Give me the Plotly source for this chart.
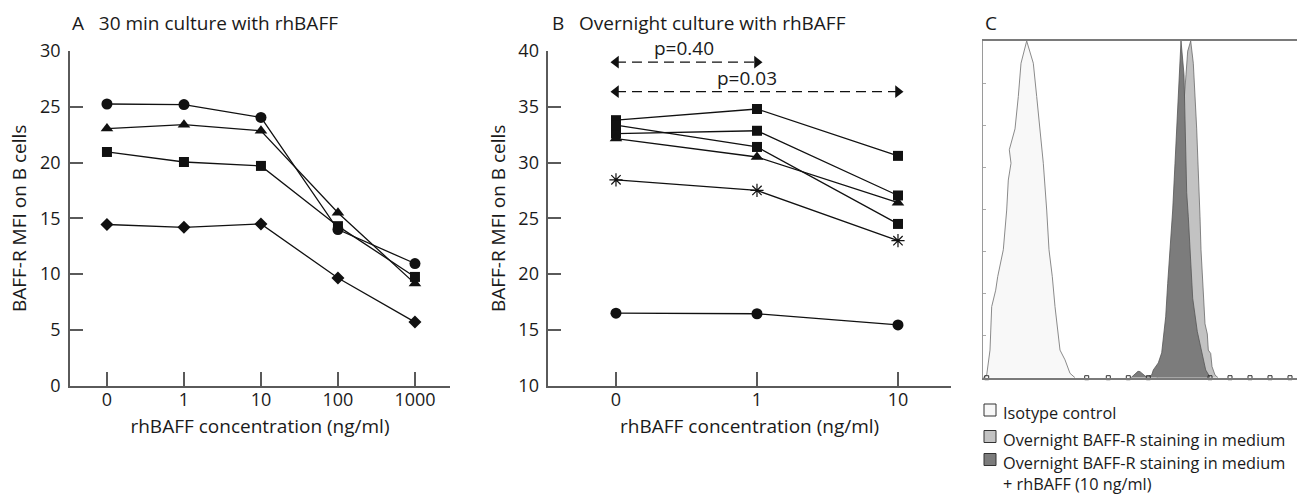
import plotly.graph_objects as go

W, H = 1297, 501
FONT = "Open Sans"
TXT = "#1a1a1a"
AX = "#5a5a5a"
FS_TITLE = 19
FS_TICK = 18

# ---------------- Panel A data ----------------
a_labels = ["0", "1", "10", "100", "1000"]
a_pos = [0, 1, 2, 3, 4]
a_circle = [25.25, 25.2, 24.05, 14.0, 10.95]
a_triangle = [23.05, 23.4, 22.85, 15.5, 9.15]
a_square = [20.95, 20.05, 19.7, 14.3, 9.75]
a_diamond = [14.45, 14.2, 14.5, 9.65, 5.7]

# ---------------- Panel B data ----------------
b_labels = ["0", "1", "10"]
b_pos = [0, 1, 2]
b_square1 = [33.8, 34.8, 30.6]
b_square2 = [32.6, 32.85, 27.05]
b_square3 = [33.35, 31.4, 24.5]
b_triangle = [32.15, 30.5, 26.4]
b_star = [28.45, 27.5, 23.0]
b_circle = [16.5, 16.45, 15.45]
b_p_texts = ["p=0.40", "p=0.03"]
b_p_ends = [1, 2]
b_p_arrow_y = [39.0, 36.35]
b_p_text_x = [0.48, 0.93]
b_p_text_y = [40.25, 37.6]

# ---------------- Panel C data (fluorescence channel vs % of max) ----------------
iso_x = [0, 3.7, 7.0, 8.7, 8.7, 12.7, 14.7, 20.3, 23.7, 23.7, 25.3, 28.0, 26.3, 32.0,
         35.3, 38.0, 43.7, 50.3, 53.7, 57.0, 60.3, 63.7, 66.0, 69.3, 72.0, 77.0, 82.0,
         87.0, 92.0]
iso_y = [0, 0.8, 8.2, 20.1, 21.1, 26.0, 30.0, 38.0, 47.8, 49.8, 58.7, 63.7, 67.7, 73.9,
         83.5, 93.4, 100, 93.4, 83.5, 73.9, 63.7, 49.8, 38.0, 30.0, 21.1, 8.2, 5.3,
         1.3, 0]
med_x = [174, 180, 186, 190, 194, 198, 203, 204.7, 207.7, 210.3, 213.7, 216, 217, 218,
         220.3, 222, 224.3, 225.3, 227.7, 229, 232, 235]
med_y = [0, 3, 10, 25, 45, 70, 90, 97, 100, 93.4, 73.9, 58.7, 47.8, 38.0,
         23.0, 16.0, 13.0, 8.2, 7.2, 3.3, 0.8, 0]
baff_x = [148, 152, 155, 157, 160, 163, 165.3, 168.7, 170.3, 175.3, 178.7, 180.3,
          182.7, 184.7, 187, 188.7, 189.7, 192, 195.3, 197, 198, 201, 202, 203.7,
          205.3, 207, 209.7, 214.3, 218.7, 222.7, 226.3, 227]
baff_y = [0, 1.2, 1.9, 1.8, 1.0, 0.3, 0.3, 0.8, 2.3, 4.4, 7.4, 11.0,
          18.1, 28.0, 37.9, 47.8, 49.8, 63.7, 83.5, 93.4, 100, 90, 74, 55,
          47.8, 38, 23.6, 13.7, 7.4, 2.3, 0.5, 0]
gate_x = [3.7, 103.7, 125.3, 145.3, 165.3, 227, 247, 267, 287, 307]
gate_y = [0, 0, 0, 0, 0, 0, 0, 0, 0, 0]
c_legend = ["Isotype control", "Overnight BAFF-R staining in medium",
            "Overnight BAFF-R staining in medium<br>+ rhBAFF (10 ng/ml)"]
c_colors = ["#f8f8f8", "#c2c2c2", "#7c7c7c"]


def px(x):
    return x / W


def py(y):
    return 1 - y / H


fig = go.Figure()

line_style = dict(color="#111111", width=1.3)

# Panel A traces
for vals, sym, size in [(a_circle, "circle", 11), (a_triangle, "triangle-up", 11),
                        (a_square, "square", 10), (a_diamond, "diamond", 10)]:
    fig.add_trace(go.Scatter(x=a_pos, y=vals, mode="lines+markers", line=line_style,
                             marker=dict(symbol=sym, size=size, color="#111111"),
                             xaxis="x", yaxis="y", showlegend=False, cliponaxis=False))

# Panel B traces
for vals, sym, size in [(b_square1, "square", 10), (b_square2, "square", 10),
                        (b_square3, "square", 10), (b_triangle, "triangle-up", 11),
                        (b_circle, "circle", 11)]:
    fig.add_trace(go.Scatter(x=b_pos, y=vals, mode="lines+markers", line=line_style,
                             marker=dict(symbol=sym, size=size, color="#111111"),
                             xaxis="x2", yaxis="y2", showlegend=False, cliponaxis=False))
fig.add_trace(go.Scatter(x=b_pos, y=b_star, mode="lines+markers", line=line_style,
                         marker=dict(symbol="asterisk-open", size=11, color="#111111",
                                     line=dict(color="#111111", width=1.2)),
                         xaxis="x2", yaxis="y2", showlegend=False, cliponaxis=False))

# p-value dashed double arrows
dom_y = [py(385.7), py(51)]
for txt, xe, ya, xt, yt in zip(b_p_texts, b_p_ends, b_p_arrow_y, b_p_text_x, b_p_text_y):
    fig.add_trace(go.Scatter(x=[b_pos[0], xe], y=[ya, ya], mode="lines+markers",
                             line=dict(color="#111111", width=1.3, dash="10px,6px"),
                             marker=dict(symbol=["triangle-left", "triangle-right"], size=11,
                                         color="#111111"),
                             xaxis="x2", yaxis="y2", showlegend=False, cliponaxis=False))
    frac = (yt - 10) / 30.0
    fig.add_annotation(x=xt, y=dom_y[0] + frac * (dom_y[1] - dom_y[0]),
                       xref="x2", yref="paper", text=txt, showarrow=False,
                       xanchor="center", yanchor="middle",
                       font=dict(family=FONT, size=FS_TITLE, color=TXT))

# Panel C traces
fig.add_trace(go.Scatter(x=iso_x, y=iso_y, mode="lines", fill="tozeroy",
                         fillcolor=c_colors[0], line=dict(color="#8a8a8a", width=1),
                         xaxis="x3", yaxis="y3", showlegend=False))
fig.add_trace(go.Scatter(x=med_x, y=med_y, mode="lines", fill="tozeroy",
                         fillcolor=c_colors[1], line=dict(color="#6a6a6a", width=0.8),
                         xaxis="x3", yaxis="y3", showlegend=False))
fig.add_trace(go.Scatter(x=baff_x, y=baff_y, mode="lines", fill="tozeroy",
                         fillcolor=c_colors[2], line=dict(color="#555555", width=0.8),
                         xaxis="x3", yaxis="y3", showlegend=False))
fig.add_trace(go.Scatter(x=gate_x, y=gate_y, mode="markers",
                         marker=dict(symbol="square-open", size=4, color="#333333",
                                     line=dict(color="#333333", width=1)),
                         xaxis="x3", yaxis="y3", showlegend=False, cliponaxis=False))

common = dict(showgrid=False, zeroline=False, showline=True, linecolor=AX, linewidth=1.5,
              ticks="inside", tickcolor=AX, tickwidth=1.5, automargin=False,
              tickfont=dict(family=FONT, size=FS_TICK, color=TXT))
title_font = dict(family=FONT, size=FS_TITLE, color=TXT)

fig.update_layout(
    width=W, height=H, margin=dict(l=0, r=0, t=0, b=0, pad=0), autosize=False,
    paper_bgcolor="white", plot_bgcolor="rgba(0,0,0,0)",
    font=dict(family=FONT, size=FS_TICK, color=TXT),
    xaxis=dict(domain=[px(70), px(450)], range=[-0.48, 4.455], tickvals=a_pos,
               ticktext=a_labels, ticklen=14, anchor="y", ticklabelstandoff=-3,
               title=dict(text="rhBAFF concentration (ng/ml)", standoff=10, font=title_font),
               **common),
    yaxis=dict(domain=dom_y, range=[0, 30], tickvals=[0, 5, 10, 15, 20, 25, 30],
               ticklen=13, anchor="x", ticklabelstandoff=4,
               title=dict(text="BAFF-R MFI on B cells", standoff=8, font=title_font),
               **common),
    xaxis2=dict(domain=[px(548.3), px(951)], range=[-0.48, 2.376], tickvals=b_pos,
                ticktext=b_labels, ticklen=14, anchor="y2", ticklabelstandoff=-3,
                title=dict(text="rhBAFF concentration (ng/ml)", standoff=10, font=title_font),
                **common),
    yaxis2=dict(domain=dom_y, range=[10, 40], tickvals=[10, 15, 20, 25, 30, 35, 40],
                ticklen=13, anchor="x2", ticklabelstandoff=4,
                title=dict(text="BAFF-R MFI on B cells", standoff=8, font=title_font),
                **common),
    xaxis3=dict(domain=[px(983), 1], range=[0, 314], showgrid=False, zeroline=False,
                showline=True, mirror=True, linecolor="#7a7a7a", linewidth=1.5,
                showticklabels=False, ticks="", anchor="y3", automargin=False),
    yaxis3=dict(domain=[py(377.7), py(41)], range=[0, 100], showgrid=False, zeroline=False,
                showline=True, linecolor="#9a9a9a", linewidth=1.2, showticklabels=False,
                ticks="inside", ticklen=3, tickcolor="#aaaaaa", dtick=12.5, anchor="x3",
                automargin=False),
)

# Panel labels
for txt, x0 in [("A   30 min culture with rhBAFF", 70), ("B   Overnight culture with rhBAFF", 550),
                ("C", 983)]:
    fig.add_annotation(x=px(x0), y=py(23), xref="paper", yref="paper", text=txt,
                       showarrow=False, xanchor="left", yanchor="middle",
                       font=title_font)

# Panel C legend
leg_y = [410, 436.5, 459.5]
for txt, col, yy in zip(c_legend, c_colors, leg_y):
    fig.add_shape(type="rect", xref="paper", yref="paper",
                  x0=px(984), x1=px(996), y0=py(yy + 6), y1=py(yy - 6),
                  fillcolor=col, line=dict(color="#333333", width=1))
    fig.add_annotation(x=px(1001), y=py(yy - 10), xref="paper", yref="paper", text=txt,
                       showarrow=False, xanchor="left", yanchor="top", align="left",
                       font=dict(family=FONT, size=16.3, color=TXT))

fig.write_html("out.html", config={"displayModeBar": False},
               post_script="document.body.style.margin='0';")
